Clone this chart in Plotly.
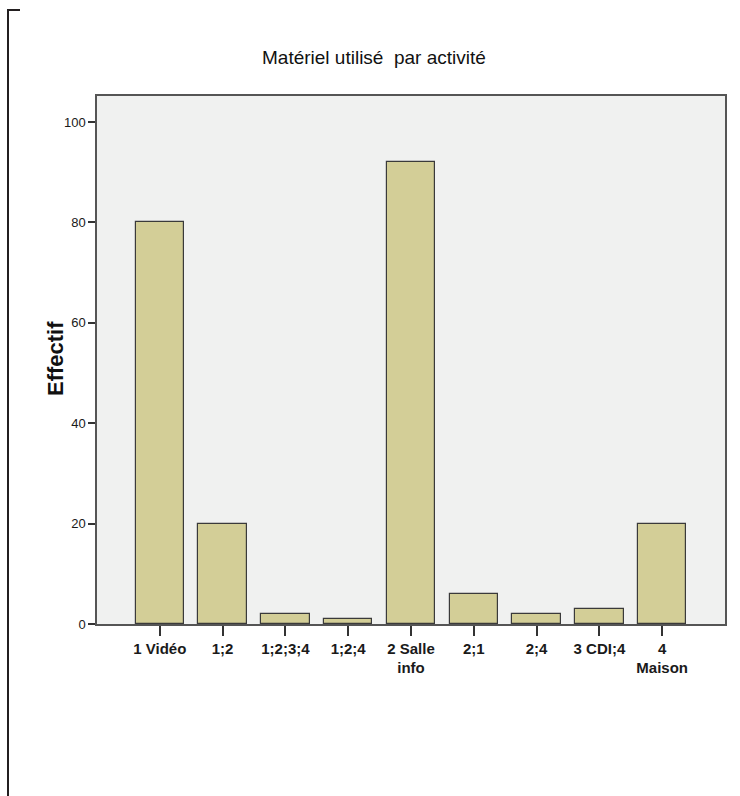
import plotly.graph_objects as go

categories = ["1 Vidéo", "1;2", "1;2;3;4", "1;2;4", "2 Salle<br>info", "2;1", "2;4", "3 CDI;4", "4<br>Maison"]
counts = [80, 20, 2, 1, 92, 6, 2, 3, 20]
y_ticks = [0, 20, 40, 60, 80, 100]

FONT = "Liberation Sans, Arial, sans-serif"

W, H = 740, 796
L, R, T, B = 97, 15, 96, 172
pw, ph = W - L - R, H - T - B

def px_x(x):
    return (x - L) / pw

def px_y(y):
    return (H - B - y) / ph

fig = go.Figure()
fig.add_trace(go.Bar(
    x=list(range(len(categories))), y=counts,
    width=0.77,
    marker=dict(color="#D3CE97", line=dict(color="#3a3a3a", width=1.2)),
    hoverinfo="y",
))

fig.update_layout(
    width=W, height=H,
    margin=dict(l=L, r=R, t=T, b=B),
    paper_bgcolor="white",
    plot_bgcolor="#F0F1F0",
    showlegend=False,
    font=dict(family=FONT, color="#1a1a1a"),
    bargap=0,
    xaxis=dict(
        range=[-1, 9],
        tickmode="array",
        tickvals=list(range(len(categories))),
        ticktext=["<b>%s</b>" % c.replace("<br>", "</b><br><b>") for c in categories],
        ticks="outside", ticklen=10, tickwidth=1.5, tickcolor="#333",
        showline=True, linecolor="#555", linewidth=1.5, mirror=True,
        showgrid=False, zeroline=False,
        tickfont=dict(size=15, family=FONT, color="#1a1a1a"),
    ),
    yaxis=dict(
        range=[0, 105.2],
        tickmode="array", tickvals=y_ticks,
        ticks="outside", ticklen=7, tickwidth=1.5, tickcolor="#333",
        showline=True, linecolor="#555", linewidth=1.5, mirror=True,
        showgrid=False, zeroline=False,
        tickfont=dict(size=13, family=FONT, color="#1a1a1a"),
    ),
)

fig.add_annotation(
    text="Matériel utilisé  par activité",
    xref="paper", yref="paper", x=px_x(374), y=px_y(58),
    showarrow=False, font=dict(size=19, family=FONT, color="#111"),
    xanchor="center", yanchor="middle",
)
fig.add_annotation(
    text="<b>Effectif</b>",
    xref="paper", yref="paper", x=px_x(55), y=px_y(359),
    showarrow=False, textangle=-90, font=dict(size=22, family=FONT, color="#111"),
    xanchor="center", yanchor="middle",
)

# outer frame corner (left edge + top tick)
fig.add_shape(type="line", xref="paper", yref="paper",
              x0=px_x(8), x1=px_x(8), y0=px_y(10), y1=px_y(800),
              line=dict(color="#231f20", width=2))
fig.add_shape(type="line", xref="paper", yref="paper",
              x0=px_x(7), x1=px_x(20), y0=px_y(10), y1=px_y(10),
              line=dict(color="#231f20", width=2))

fig.write_html("out.html", config={"displayModeBar": False},
               post_script="document.body.style.margin='0px';")
